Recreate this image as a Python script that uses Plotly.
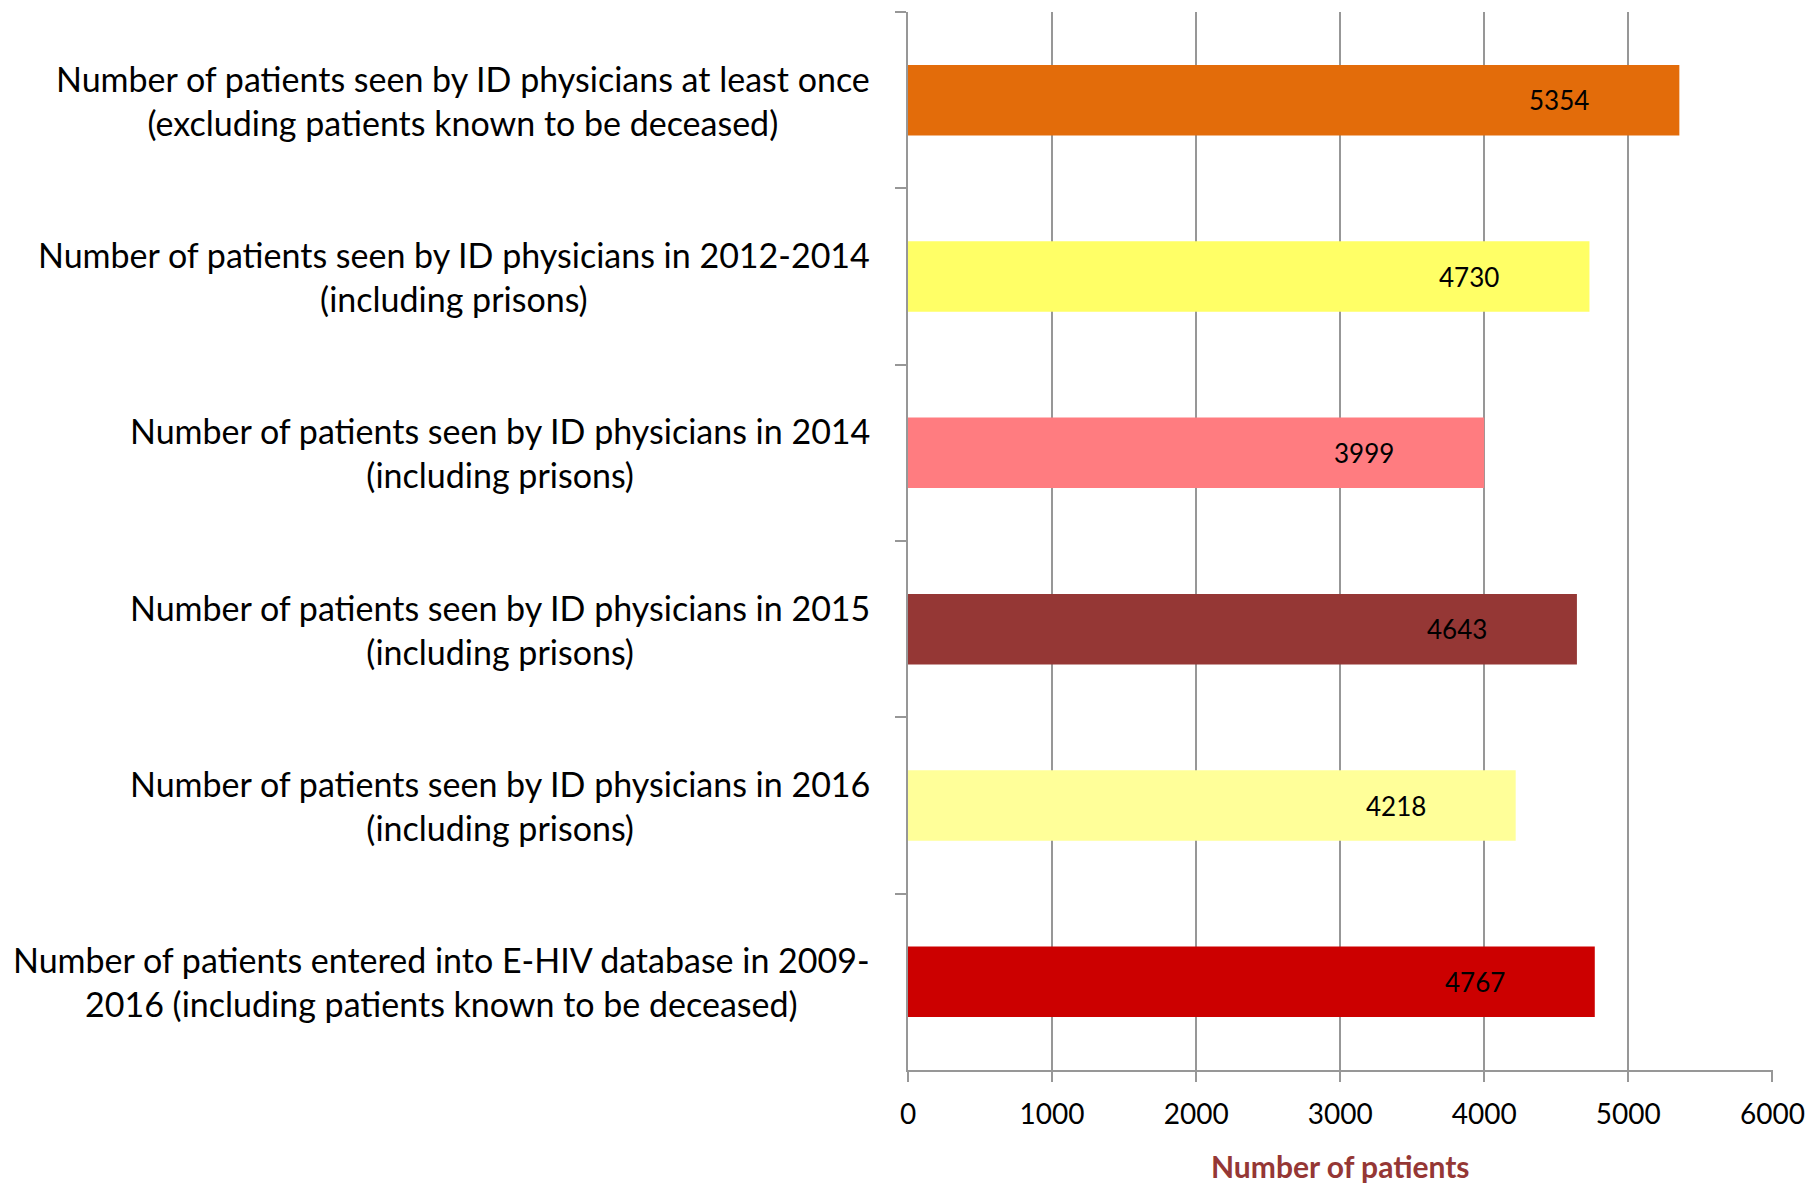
import plotly.graph_objects as go

categories = [
    "Number of patients seen by ID physicians at least once<br>(excluding patients known to be deceased)",
    "Number of patients seen by ID physicians in 2012-2014<br>(including prisons)",
    "Number of patients seen by ID physicians in 2014<br>(including prisons)",
    "Number of patients seen by ID physicians in 2015<br>(including prisons)",
    "Number of patients seen by ID physicians in 2016<br>(including prisons)",
    "Number of patients entered into E-HIV database in 2009-<br>2016 (including patients known to be deceased)",
]
values = [5354, 4730, 3999, 4643, 4218, 4767]
bar_colors = ["#E36C0A", "#FFFF66", "#FF7C80", "#953735", "#FFFF99", "#CC0000"]
x_ticks = [0, 1000, 2000, 3000, 4000, 5000, 6000]
x_title = "Number of patients"

FONT = "Lato, Carlito, 'Liberation Sans', sans-serif"
GRID = "#979797"

fig = go.Figure()
fig.add_trace(go.Bar(
    y=categories, x=values, orientation="h",
    marker=dict(color=bar_colors, line=dict(width=0)),
    hoverinfo="x",
))

annotations = []
for c, v in zip(categories, values):
    annotations.append(dict(
        x=v, y=c, xref="x", yref="y", text=str(v), showarrow=False,
        xanchor="center", yanchor="middle", xshift=-120,
        font=dict(family=FONT, size=26, color="black"),
    ))
    annotations.append(dict(
        x=0, y=c, xref="paper", yref="y", text=c, showarrow=False,
        xanchor="right", yanchor="middle", align="center", xshift=-36,
        font=dict(family=FONT, size=34, color="black"),
    ))
annotations.append(dict(
    x=0.5, y=0, xref="paper", yref="paper", text="<b>" + x_title + "</b>",
    showarrow=False, xanchor="center", yanchor="middle", yshift=-96,
    font=dict(family=FONT, size=30, color="#953735"),
))

fig.update_layout(
    width=1812, height=1184,
    margin=dict(l=908, r=39, t=12, b=114, autoexpand=False),
    paper_bgcolor="white", plot_bgcolor="white",
    bargap=0.6, showlegend=False,
    annotations=annotations,
    xaxis=dict(
        range=[0, 6004], tickvals=x_ticks, ticktext=[str(t) for t in x_ticks],
        showgrid=True, gridcolor=GRID, gridwidth=2,
        showline=True, linecolor=GRID, linewidth=2,
        ticks="outside", ticklen=10, tickwidth=2, tickcolor=GRID,
        tickfont=dict(family=FONT, size=28, color="black"),
        ticklabelstandoff=8, zeroline=False, fixedrange=True,
    ),
    yaxis=dict(
        categoryorder="array", categoryarray=categories, autorange="reversed",
        showticklabels=False, showgrid=False, zeroline=False,
        showline=True, linecolor=GRID, linewidth=2,
        ticks="outside", ticklen=11, tickwidth=2, tickcolor=GRID,
        tickson="boundaries", fixedrange=True,
    ),
)

fig.write_html(
    "out.html",
    config={"displayModeBar": False},
    post_script="document.body.style.margin='0';document.body.style.overflow='hidden';",
)
